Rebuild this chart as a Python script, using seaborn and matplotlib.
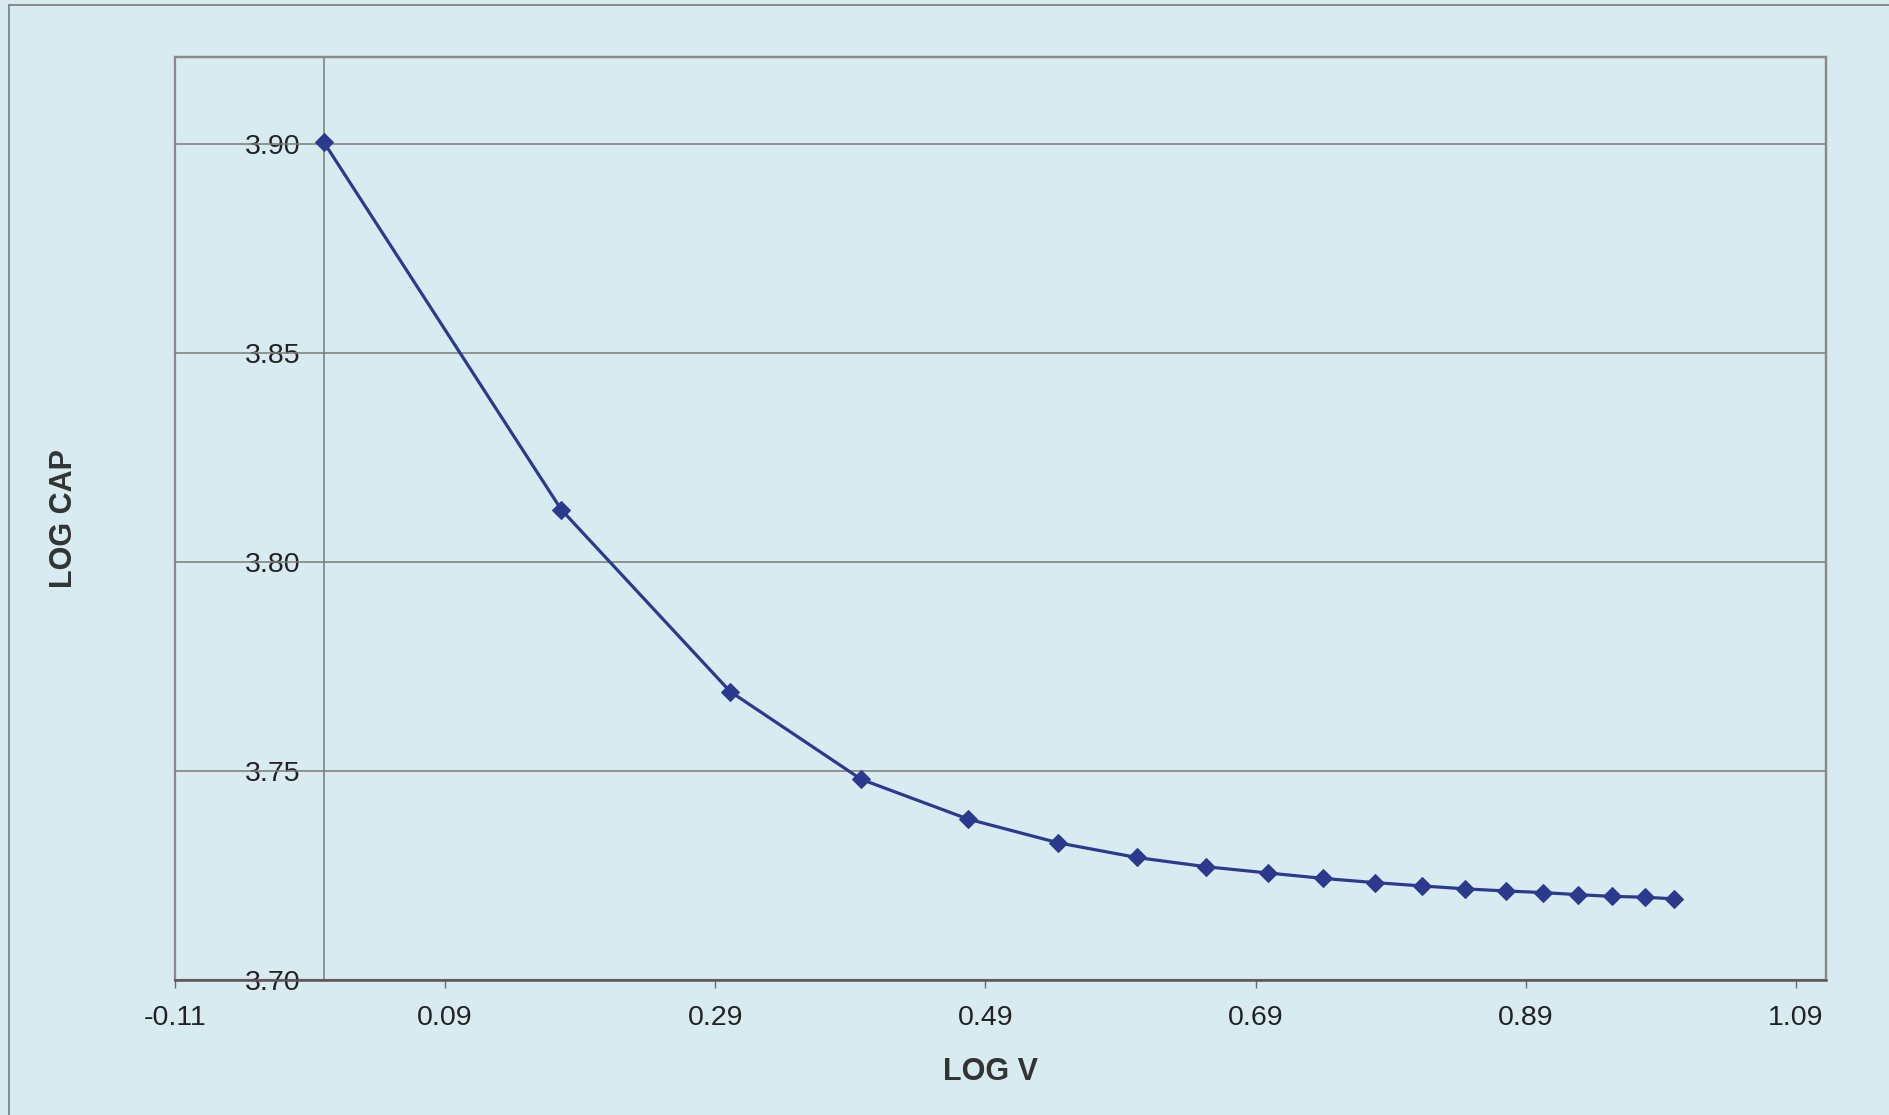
import matplotlib
matplotlib.use("Agg")
import matplotlib.pyplot as plt
from matplotlib.lines import Line2D
from matplotlib.patches import Rectangle
import seaborn as sns
import pandas as pd

# Data
log_v = [0.000, 0.176, 0.301, 0.398, 0.477, 0.544, 0.602, 0.653, 0.699, 0.740,
         0.778, 0.813, 0.845, 0.875, 0.903, 0.929, 0.954, 0.978, 1.000]
log_cap = [3.9005, 3.8125, 3.7690, 3.7480, 3.7385, 3.7328, 3.7293, 3.7271, 3.7256,
           3.7243, 3.7233, 3.7225, 3.7218, 3.7213, 3.7209, 3.7204, 3.7200, 3.7198,
           3.7194]
x_ticks = [-0.11, 0.09, 0.29, 0.49, 0.69, 0.89, 1.09]
y_ticks = [3.70, 3.75, 3.80, 3.85, 3.90]
x_label = "LOG V"
y_label = "LOG CAP"

df = pd.DataFrame({"x": log_v, "y": log_cap})

sns.set_style("white")
plt.rcParams["font.family"] = ["Liberation Sans", "DejaVu Sans"]

BG = "#d7ebf1"
GRID = "#7a7a7a"
LINE = "#2c3a8e"

fig = plt.figure(figsize=(18.9, 11.15), dpi=100, facecolor=BG)
ax = fig.add_axes([0.0926, 0.1211, 0.8735, 0.8278])
ax.set_facecolor(BG)

# horizontal gridlines
for yv in y_ticks[1:]:
    ax.axhline(yv, color=GRID, lw=1.1, zorder=1)

sns.lineplot(data=df, x="x", y="y", ax=ax, color=LINE, lw=2.3, marker="D",
             markersize=9.5, markeredgecolor=LINE, estimator=None, sort=False,
             zorder=3)

ax.set_xlim(-0.11, 1.1122)
ax.set_ylim(3.70, 3.9208)
ax.set_xticks(x_ticks)
ax.set_xticklabels([f"{v:.2f}" for v in x_ticks])
ax.set_yticks(y_ticks)
ax.set_yticklabels([f"{v:.2f}" for v in y_ticks])

# value axis crosses at x = 0
ax.spines["left"].set_position(("data", 0))
ax.spines["left"].set_color(GRID)
ax.spines["left"].set_linewidth(1.1)
for s in ["top", "right"]:
    ax.spines[s].set_color("#8a8a8a")
    ax.spines[s].set_linewidth(1.6)
ax.spines["bottom"].set_color("#5e5458")
ax.spines["bottom"].set_linewidth(1.8)
ax.add_patch(Rectangle((0, 0), 1, 1, transform=ax.transAxes, fill=False,
                       edgecolor="#8a8a8a", lw=1.6, clip_on=False, zorder=0.5))

ax.tick_params(axis="x", direction="out", length=6, width=1.0, color="#6a6a6a",
               pad=12, labelsize=20.5, labelcolor="#222222", bottom=True)
ax.tick_params(axis="y", length=0, pad=16.5, labelsize=20.5, labelcolor="#222222",
               left=True)

ax.set_xlabel(x_label, fontsize=22, fontweight="bold", color="#333333")
ax.set_ylabel(y_label, fontsize=22, fontweight="bold", color="#333333")
ax.xaxis.set_label_coords(0.494, -0.083)
ax.yaxis.set_label_coords(-0.058, 0.5)

# outer chart border
fig.add_artist(Line2D([9 / 1890, 1.0], [1 - 5 / 1115, 1 - 5 / 1115],
                      transform=fig.transFigure, color="#7a7a7a", lw=1.2))
fig.add_artist(Line2D([9 / 1890, 9 / 1890], [0.0, 1 - 5 / 1115],
                      transform=fig.transFigure, color="#7a7a7a", lw=1.2))

fig.savefig("out.png", dpi=100, facecolor=BG)
